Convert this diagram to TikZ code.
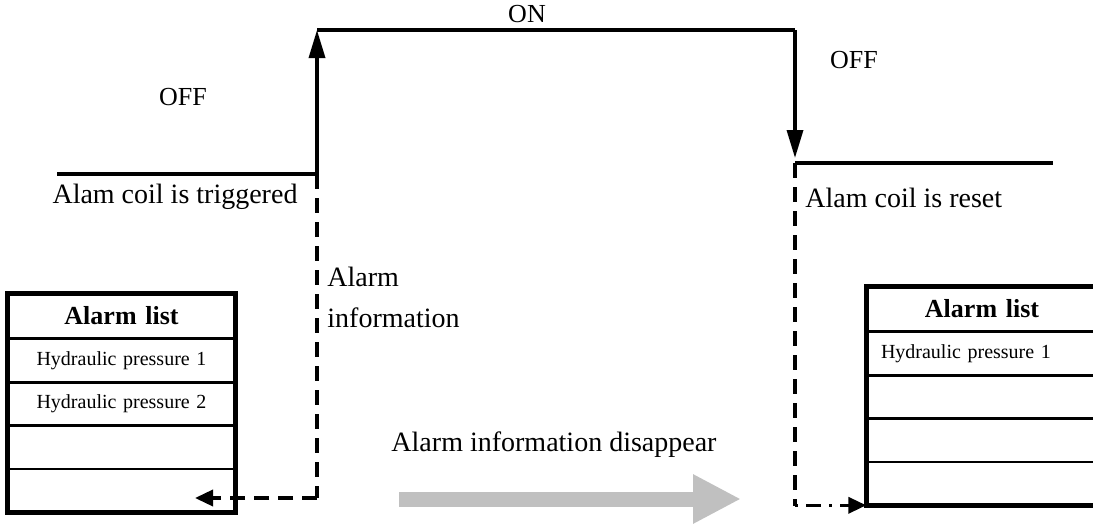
\documentclass[tikz,border=0pt]{standalone}
\usepackage{fontspec}
\setmainfont{Liberation Serif}
\usetikzlibrary{positioning,arrows.meta}
\definecolor{flowgray}{RGB}{192,192,192}

\begin{document}
\begin{tikzpicture}[x=0.5pt, y=-0.5pt, >={Triangle[length=14pt, width=8pt]},
  sig/.style={line width=1.7pt},
  dsh/.style={line width=1.8pt, dash pattern=on 7.5pt off 4.5pt},
  dtip/.style={-{Triangle[length=9pt, width=8pt]}},
  lbl/.style={inner sep=0pt, font=\fontsize{14}{20.5}\selectfont},
  st/.style={inner sep=0pt, font=\fontsize{13}{15}\selectfont},
  frame/.style={line width=2.4pt},
  hdr/.style={draw, line width=0.7pt, minimum height=22pt, text width=99pt, inner xsep=7pt, inner ysep=0pt, align=center, font=\fontsize{13}{15}\selectfont\bfseries},
  item/.style={draw, line width=0.7pt, minimum height=21pt, text width=99pt, inner xsep=7pt, inner ysep=0pt, align=center, font=\fontsize{10}{12}\selectfont}]
  \useasboundingbox (0,0) rectangle (1093,525);
  % coil signal
  \coordinate (a1) at (57,174);
  \coordinate (a2) at (317,174);
  \coordinate (a3) at (317,30);
  \coordinate (a4) at (795,30);
  \coordinate (a5) at (795,163);
  \coordinate (a6) at (1053,163);
  \node[st] (off1) at (183,97) {OFF};
  \node[st] (on) at (527,14) {ON};
  \node[st] (off2) at (854,60) {OFF};
  \node[lbl] (trig) at (175,197) {Alam coil is triggered};
  \node[lbl, anchor=west] (rst) at (805,198) {Alam coil is reset};
  \node[lbl, anchor=west, align=left] (info) at (327,297) {Alarm\\information};
  \node[lbl] (dis) at (554,445) {Alarm information disappear};
  \draw[sig] (a1) -- (a2);
  \draw[sig, ->] (a2) -- (a3);
  \draw[sig] (a3) -- (a4);
  \draw[sig, ->, shorten >=2.5pt] (a4) -- (a5);
  \draw[sig] (a5) -- (a6);
  % alarm lists
  \node[hdr] (lh) at (121.5,316) {Alarm list};
  \node[item, below=0pt of lh] (l1) {Hydraulic pressure 1};
  \node[item, below=0pt of l1] (l2) {Hydraulic pressure 2};
  \node[item, below=0pt of l2] (l3) {};
  \node[item, below=0pt of l3] (l4) {};
  \draw[frame] (lh.north west) rectangle (l4.south east);
  \node[hdr, text width=101pt] (rh) at (982,309) {Alarm list};
  \node[item, text width=101pt, align=left, below=0pt of rh] (r1) {Hydraulic pressure 1};
  \node[item, text width=101pt, below=0pt of r1] (r2) {};
  \node[item, text width=101pt, below=0pt of r2] (r3) {};
  \node[item, text width=101pt, below=0pt of r3] (r4) {};
  \draw[frame] (rh.north east) -- (rh.north west) -- (r4.south west) -- (r4.south east);
  % dashed links
  \coordinate (d1) at (317,498);
  \coordinate (lt) at (195,498);
  \coordinate (d2) at (795,506);
  \draw[dsh] (a2) -- (d1);
  \draw[dsh, dtip] (d1) -- (lt);
  \draw[dsh] (a5) -- (d2);
  \draw[line width=1.8pt, dash pattern=on 1.5pt off 4pt on 7.5pt off 4pt, dtip] (a5 |- r4.south west) -- (r4.south west);
  % gray arrow
  \coordinate (g1) at (399,499);
  \coordinate (g2) at (741,499);
  \draw[flowgray, line width=7.5pt, -{Triangle[length=24pt, width=23pt]}] (g1) -- (g2);
\end{tikzpicture}
\end{document}
